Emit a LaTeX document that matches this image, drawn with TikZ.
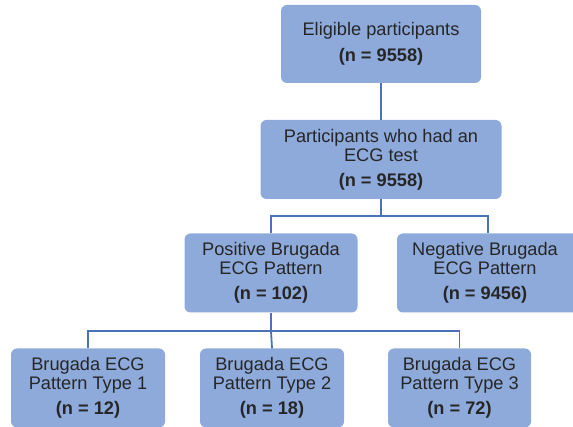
\documentclass[tikz,border=0pt]{standalone}
\usepackage{fontspec}
\setmainfont{Liberation Sans}
\usepackage{tikz}
\usetikzlibrary{positioning}
\usetikzlibrary{calc}
\definecolor{boxfill}{HTML}{8EAADB}
\definecolor{linkblue}{HTML}{4A72B8}

\begin{document}
\begin{tikzpicture}
			[
				x = 1pt, y = -1pt,
				box/.style = {rectangle, rounded corners = 6pt, fill = boxfill, align = center, inner sep = 0pt, minimum height = 79pt, font = \fontsize{18.2}{19}\selectfont, text = black!85},
				link/.style = {draw = linkblue, line width = 1.8pt},
			]
			\useasboundingbox (0,0) rectangle (573,427);
			\node (eligible) [box, minimum width = 200pt, minimum height = 78pt] at (381,44) {Eligible participants\\[7pt]\textbf{(n = 9558)}};
			\node (ecgtest) [box, minimum width = 241pt] at (381,159.5) {Participants who had an\\ECG test\\[6pt]\textbf{(n = 9558)}};
			\node (positive) [box, minimum width = 173pt] at (271,273) {Positive Brugada\\ECG Pattern\\[6pt]\textbf{(n = 102)}};
			\node (negative) [box, minimum width = 182pt] at (488,273) {\hspace*{-6pt}Negative Brugada\\\hspace*{-6pt}ECG Pattern\\[6pt]\hspace*{-6pt}\textbf{(n = 9456)}};
			\node (typeone) [box, minimum width = 154pt] at (88,388) {Brugada ECG\\Pattern Type 1\\[6pt]\textbf{(n = 12)}};
			\node (typetwo) [box, minimum width = 144pt] at (272,388) {Brugada ECG\\Pattern Type 2\\[6pt]\textbf{(n = 18)}};
			\node (typethree) [box, minimum width = 143pt] at (459.5,388) {Brugada ECG\\Pattern Type 3\\[6pt]\textbf{(n = 72)}};
			% branch points
			\coordinate (split) at (381,216);
			\coordinate (subsplit) at (271,331);
			\draw [link] (eligible) -- (ecgtest);
			\draw [link] (ecgtest) -- (split);
			\draw [link] (positive.north) |- (split) -| (negative.north);
			\draw [link] (positive) -- (subsplit);
			\draw [link] (typeone.north) |- (subsplit) -| (typethree.north);
			\draw [link] (subsplit) -- (typetwo.north);
		\end{tikzpicture}
\end{document}
